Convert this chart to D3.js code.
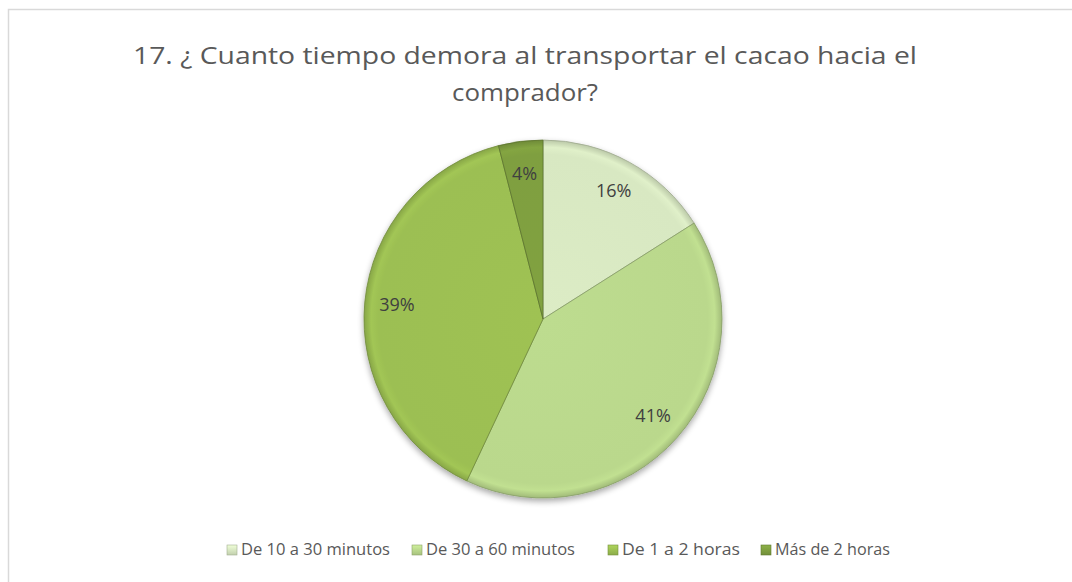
<!DOCTYPE html>
<html><head><meta charset="utf-8">
<script src="https://cdn.jsdelivr.net/npm/d3@7"></script>
<style>body{margin:0;background:#fff}svg{display:block}</style>
</head><body>
<script>
const categories = ["De 10 a 30 minutos", "De 30 a 60 minutos", "De 1 a 2 horas", "Más de 2 horas"];
const values = [16, 41, 39, 4];
const colors = ["#d8e8c2", "#bad88c", "#9cbf52", "#7f9f40"];
const titleLines = ["17. ¿ Cuanto tiempo demora al transportar el cacao hacia el", "comprador?"];

const W = 1072, H = 582;
const svg = d3.select("body").append("svg").attr("width", W).attr("height", H);
const defs = svg.append("defs");

// chart border
svg.append("rect").attr("x", 8.5).attr("y", 9.5).attr("width", 1080).attr("height", 600)
  .attr("fill", "#fff").attr("stroke", "#d9d9d9").attr("stroke-width", 1.5);

// title
const title = svg.append("text").attr("text-anchor", "middle")
  .attr("font-family", "'Open Sans', 'Liberation Sans', sans-serif")
  .attr("font-size", 23).attr("fill", "#595959");
title.selectAll("tspan").data(titleLines).join("tspan")
  .attr("x", 525).attr("y", (d, i) => 64 + i * 37).text(d => d)
  .attr("textLength", (d, i) => i === 0 ? 784 : 146)
  .attr("lengthAdjust", "spacingAndGlyphs");

// gradients for bevel look
colors.forEach((c, i) => {
  const g = defs.append("radialGradient").attr("id", "g" + i)
    .attr("gradientUnits", "userSpaceOnUse").attr("cx", 0).attr("cy", 0).attr("r", 179);
  const base = d3.color(c);
  g.append("stop").attr("offset", "0%").attr("stop-color", base.brighter(0.05));
  g.append("stop").attr("offset", "92%").attr("stop-color", base);
  g.append("stop").attr("offset", "96%").attr("stop-color", base.brighter(0.1));
  g.append("stop").attr("offset", "100%").attr("stop-color", base.darker(0.4));
  const lg = defs.append("linearGradient").attr("id", "l" + i)
    .attr("x1", 0).attr("y1", 0).attr("x2", 0).attr("y2", 1);
  lg.append("stop").attr("offset", "0%").attr("stop-color", base.brighter(0.3));
  lg.append("stop").attr("offset", "100%").attr("stop-color", base.darker(0.3));
});
const f = defs.append("filter").attr("id", "sh").attr("x", "-20%").attr("y", "-20%").attr("width", "140%").attr("height", "140%");
f.append("feGaussianBlur").attr("in", "SourceAlpha").attr("stdDeviation", 3);
f.append("feOffset").attr("dx", 0).attr("dy", 3).attr("result", "b");
f.append("feComponentTransfer").append("feFuncA").attr("type", "linear").attr("slope", 0.35);
const fm = f.append("feMerge"); fm.append("feMergeNode"); fm.append("feMergeNode").attr("in", "SourceGraphic");

const cx = 543, cy = 319, R = 179;
const pie = d3.pie().sort(null).value(d => d)(values);
const arc = d3.arc().innerRadius(0).outerRadius(R);
const labelArc = d3.arc().innerRadius(R * 0.82).outerRadius(R * 0.82);
const g = svg.append("g").attr("transform", `translate(${cx},${cy})`);
g.append("g").attr("filter", "url(#sh)").selectAll("path").data(pie).join("path")
  .attr("d", arc).attr("fill", (d, i) => `url(#g${i})`)
  .attr("stroke", (d, i) => d3.color(colors[i]).darker(0.9)).attr("stroke-width", 0.8);

g.selectAll("text.lbl").data(pie).join("text").attr("class", "lbl")
  .attr("transform", d => `translate(${labelArc.centroid(d)})`)
  .attr("text-anchor", "middle").attr("dy", "0.35em")
  .attr("font-family", "'Open Sans', 'Liberation Sans', sans-serif")
  .attr("font-size", 18).attr("fill", "#404040")
  .text(d => d.data + "%");

// legend
const legX = [227, 412, 608, 761];
const leg = svg.append("g").selectAll("g").data(categories).join("g")
  .attr("transform", (d, i) => `translate(${legX[i]},550)`);
leg.append("rect").attr("x", 0).attr("y", -5).attr("width", 10).attr("height", 10)
  .attr("fill", (d, i) => `url(#l${i})`).attr("stroke", (d, i) => d3.color(colors[i]).darker(0.8)).attr("stroke-width", 0.6);
leg.append("text").attr("x", 14).attr("dy", "0.35em")
  .attr("font-family", "'Open Sans', 'Liberation Sans', sans-serif")
  .attr("font-size", 15.5).attr("fill", "#595959").text(d => d)
  .attr("textLength", (d, i) => [149, 149, 118, 115][i]).attr("lengthAdjust", "spacingAndGlyphs");
</script>
</body></html>
